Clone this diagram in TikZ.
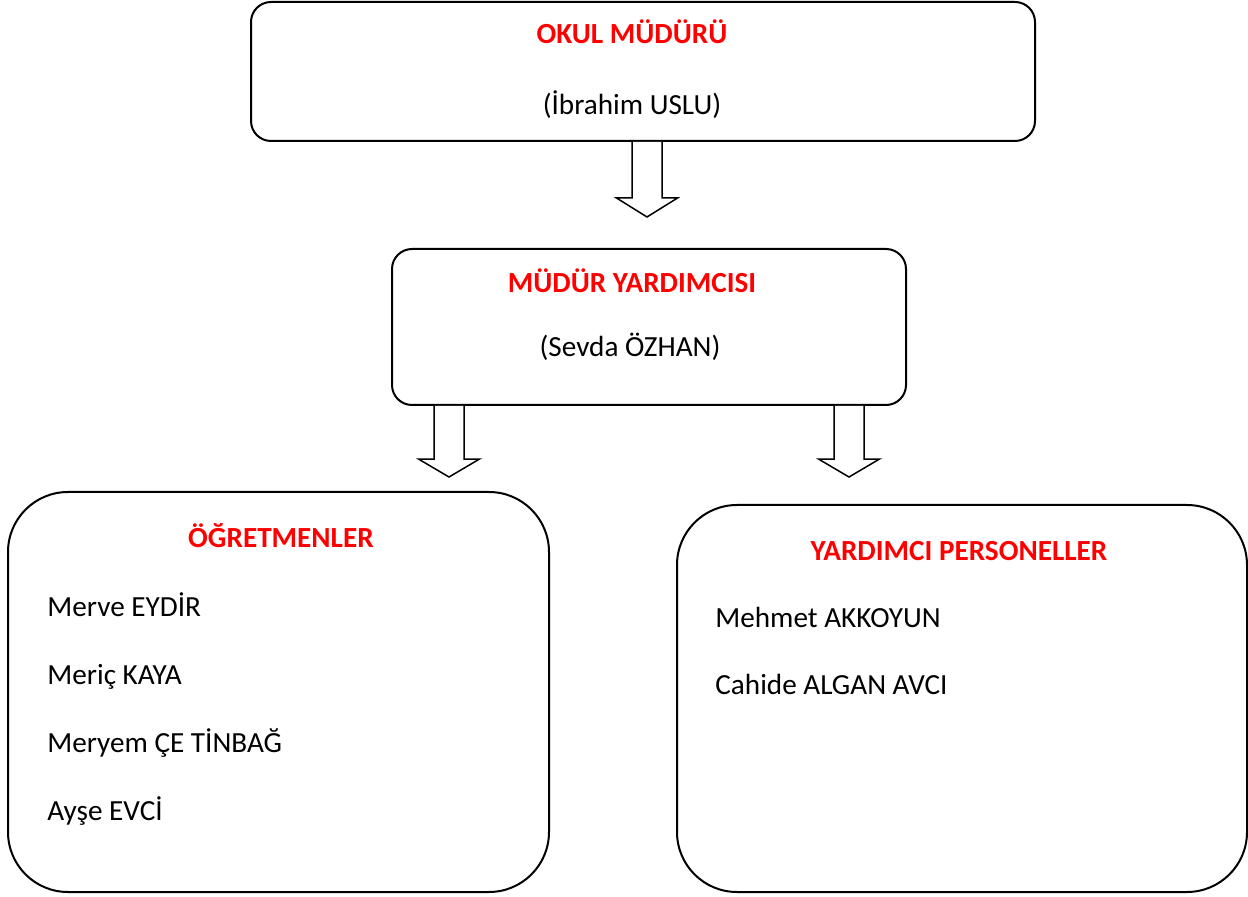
\documentclass[tikz,border=0pt]{standalone}
\usepackage{fontspec}
\setmainfont{Carlito}
\usepackage{xcolor}
\usetikzlibrary{positioning,calc}

\tikzset{
  kutu/.style={draw, line width=1pt, rounded corners=10pt, inner sep=0pt},
  buyukkutu/.style={draw, line width=1pt, rounded corners=30pt, inner sep=0pt},
  baslik/.style={text=red, font=\fontsize{14.6}{17.5}\selectfont\bfseries, inner sep=0pt, anchor=base},
  isim/.style={font=\fontsize{14.6}{17.5}\selectfont, inner sep=0pt},
  okblok/.pic={
    \draw[line width=0.75pt, fill=white]
      (-15,0) -- (-15,56) -- (-30.5,56) -- (0,75) -- (30.5,56) -- (15,56) -- (15,0);
  }
}

\begin{document}
\begin{tikzpicture}[x=0.5pt,y=-0.5pt]
  \useasboundingbox (0,0) rectangle (1248,897);

  % kutular
  \node[kutu, minimum width=392pt, minimum height=69.5pt] (mudur) at (643,71.5) {};
  \node[kutu, minimum width=257pt, minimum height=78pt] (yard) at (649,327) {};
  \node[buyukkutu, minimum width=270.5pt, minimum height=200pt] (ogr) at (278.5,692) {};
  \node[buyukkutu, minimum width=285pt, minimum height=193.5pt] (pers) at (962,698.5) {};

  % yazilar
  \node[baslik] (t_mudur) at (632,44) {OKUL MÜDÜRÜ};
  \node[isim, anchor=base] (n_mudur) at (632,115) {(İbrahim USLU)};
  \node[baslik] (t_yard) at (632,293) {MÜDÜR YARDIMCISI};
  \node[isim, anchor=base] (n_yard) at (630,357) {(Sevda ÖZHAN)};
  \node[baslik] (t_ogr) at (281,548) {ÖĞRETMENLER};
  \node[baslik] (t_pers) at (959,561) {YARDIMCI PERSONELLER};

  \node[isim, anchor=base west] (o1) at (47,617) {Merve EYDİR};
  \node[isim, anchor=base west] (o2) at (47,685) {Meriç KAYA};
  \node[isim, anchor=base west] (o3) at (47,753) {Meryem ÇE TİNBAĞ};
  \node[isim, anchor=base west] (o4) at (47,820) {Ayşe EVCİ};

  \node[isim, anchor=base west] (p1) at (715,628) {Mehmet AKKOYUN};
  \node[isim, anchor=base west] (p2) at (715,695) {Cahide ALGAN AVCI};

  % oklar
  \pic at ($(mudur.south)+(4,0)$) {okblok};
  \pic[yscale=0.947] at ($(yard.south)+(-200,0)$) {okblok};
  \pic[yscale=0.947] at ($(yard.south)+(200,0)$) {okblok};
\end{tikzpicture}
\end{document}
